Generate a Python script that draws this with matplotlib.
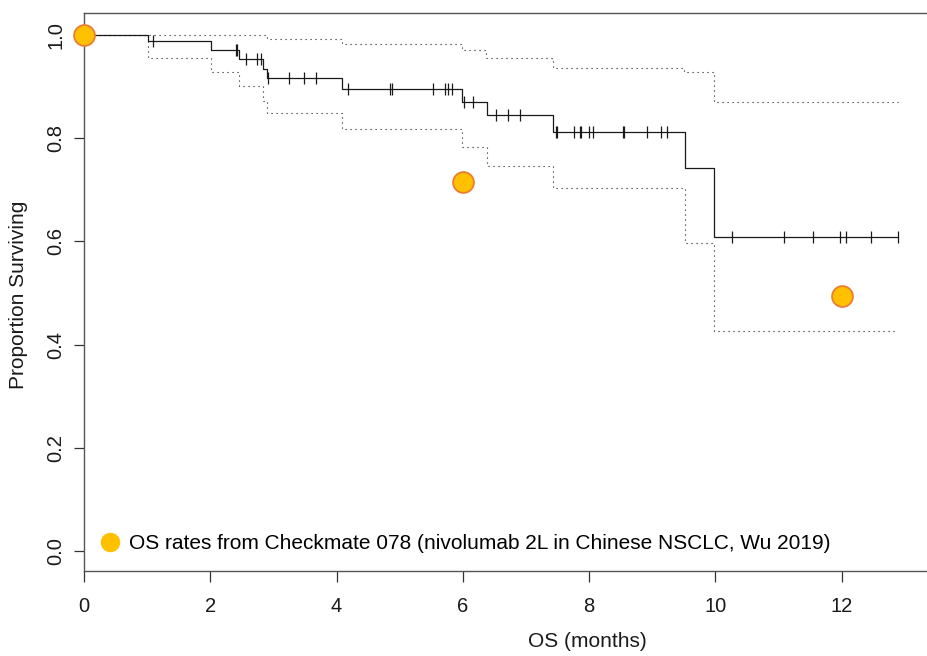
import numpy as np
import matplotlib
matplotlib.use('Agg')
import matplotlib.pyplot as plt
from matplotlib.lines import Line2D

plt.rcParams['font.family'] = ['Liberation Sans', 'DejaVu Sans']

# ---------------------------------------------------------
# Data
# ---------------------------------------------------------
km_time = [0.0, 1.02, 2.01, 2.46, 2.83, 2.90, 4.08, 5.99, 6.38, 7.43, 9.51, 9.97]
km_surv = [1.0, 0.988, 0.971, 0.954, 0.935, 0.916, 0.896, 0.870, 0.844, 0.812, 0.743, 0.608]
km_end = 12.89

upper_time = [0.0, 2.90, 4.08, 5.98, 6.37, 7.43, 9.50, 9.97]
upper_val = [1.0, 0.992, 0.982, 0.971, 0.955, 0.937, 0.929, 0.870]

lower_time = [0.0, 1.02, 2.01, 2.46, 2.83, 2.90, 4.08, 5.99, 6.38, 7.43, 9.51, 9.97]
lower_val = [1.0, 0.956, 0.928, 0.901, 0.872, 0.848, 0.818, 0.783, 0.746, 0.704, 0.596, 0.426]

censor_time = [1.09, 2.40, 2.43, 2.56, 2.74, 2.80, 2.92, 3.25, 3.49, 3.68, 4.18,
               4.84, 4.87, 5.52, 5.72, 5.76, 5.82, 6.02, 6.16, 6.52, 6.71, 6.90,
               7.47, 7.49, 7.76, 7.86, 7.87, 8.00, 8.06, 8.53, 8.55, 8.92, 9.14,
               9.24, 10.26, 11.09, 11.54, 11.97, 12.06, 12.47, 12.89]

cm_month = [0.0, 6.0, 12.0]
cm_rate = [1.0, 0.715, 0.495]
legend_label = "OS rates from Checkmate 078 (nivolumab 2L in Chinese NSCLC, Wu 2019)"

x_ticks = [0, 2, 4, 6, 8, 10, 12]
y_ticks = [0.0, 0.2, 0.4, 0.6, 0.8, 1.0]

# ---------------------------------------------------------
# Figure
# ---------------------------------------------------------
fig = plt.figure(figsize=(9.27, 6.56), dpi=100)
ax = fig.add_axes([0.0906, 0.1296, 0.9094, 0.8506])

line_col = '#1a1a1a'
txt_col = '#1a1a1a'


def step_xy(times, vals, end):
    return list(times) + [end], list(vals) + [vals[-1]]


x, y = step_xy(km_time, km_surv, km_end)
ax.step(x, y, where='post', color=line_col, lw=0.9)

x, y = step_xy(upper_time, upper_val, km_end)
ax.step(x, y, where='post', color=line_col, lw=0.8, linestyle=(0, (1, 3.5)))
x, y = step_xy(lower_time, lower_val, km_end)
ax.step(x, y, where='post', color=line_col, lw=0.8, linestyle=(0, (1, 3.5)))

# censor marks sit on the KM curve
idx = np.searchsorted(km_time, censor_time, side='right') - 1
censor_surv = np.array(km_surv)[idx]
ax.plot(censor_time, censor_surv, linestyle='none', marker='|', markersize=8.5,
        markeredgewidth=0.9, color=line_col)

# Checkmate 078 points
ax.plot(cm_month, cm_rate, linestyle='none', marker='o', markersize=15,
        markerfacecolor='#FFC000', markeredgecolor='#ED7D31', markeredgewidth=1.3,
        clip_on=False, zorder=5)

handle = Line2D([], [], linestyle='none', marker='o', markersize=13,
                markerfacecolor='#FFC000', markeredgecolor='#FFC000')
ax.legend([handle], [legend_label], loc='center left', bbox_to_anchor=(0.0197, 0.0484),
          frameon=False, fontsize=15, handlelength=0.9, handletextpad=0.45,
          borderpad=0, borderaxespad=0)

ax.set_xlim(0, 13.35)
ax.set_ylim(-0.039, 1.0427)
ax.set_xticks(x_ticks)
ax.set_yticks(y_ticks)
ax.set_xticklabels([str(v) for v in x_ticks])
ax.set_yticklabels([f"{v:.1f}" for v in y_ticks], rotation=90, va='center')

for side in ['left', 'bottom', 'top']:
    ax.spines[side].set_color('#555555')
    ax.spines[side].set_linewidth(1.0)
ax.spines['right'].set_visible(False)

ax.tick_params(axis='x', length=8, width=0.9, color='#333333', pad=11,
               labelsize=14.5, labelcolor=txt_col)
ax.tick_params(axis='y', length=7.5, width=0.9, color='#333333', pad=6,
               labelsize=14.5, labelcolor=txt_col)

ax.set_xlabel("OS (months)", fontsize=15, color=txt_col)
ax.set_ylabel("Proportion Surviving", fontsize=15, color=txt_col)
# the original plot region ran past the right edge, so the x label sits right of centre
ax.xaxis.set_label_coords(0.597, -0.127)
ax.xaxis.label.set_va('center')
ax.yaxis.set_label_coords(-0.078, 0.495)
ax.yaxis.label.set_va('center')

fig.savefig('out.png', dpi=100)
